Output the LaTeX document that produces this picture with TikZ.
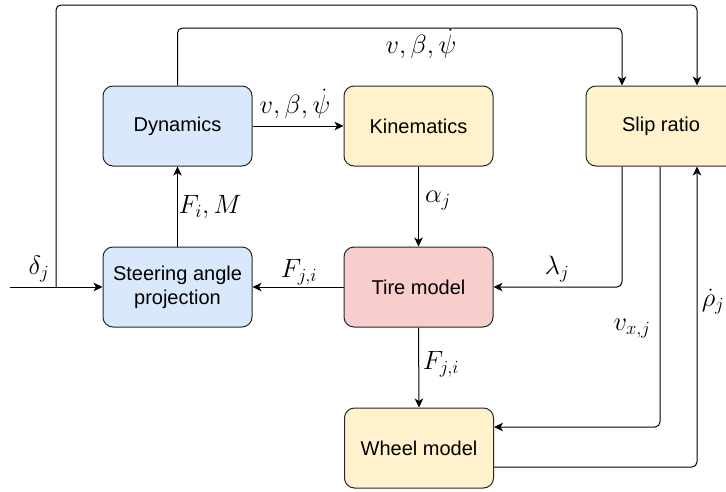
\RequirePackage{fix-cm}
\documentclass[tikz,border=0pt]{standalone}
\usepackage[no-math]{fontspec}
\newfontfamily\boxfont{Liberation Sans}
\usetikzlibrary{arrows.meta}
\definecolor{bluefill}{HTML}{DAE8FC}
\definecolor{yellowfill}{HTML}{FFF2CC}
\definecolor{redfill}{HTML}{F8CECC}
\definecolor{boxline}{HTML}{262626}
\begin{document}
\begin{tikzpicture}[x=1pt,y=-1pt,
  block/.style={draw=boxline, line width=1pt, rounded corners=10pt,
    minimum width=149pt, minimum height=80pt, inner sep=0pt, align=center,
    font=\boxfont\fontsize{20}{24}\selectfont},
  conn/.style={line width=1pt, rounded corners=5pt,
    -{Stealth[length=9pt,width=8.5pt,inset=2.5pt]}},
  lbl/.style={font=\fontsize{26.5}{30}\selectfont, inner sep=0pt}]
\useasboundingbox (0,0) rectangle (726,491);

% blocks
\node[block, fill=bluefill]   (dyn)   at (177.5,126) {Dynamics};
\node[block, fill=yellowfill] (kin)   at (418.5,126) {Kinematics};
\node[block, fill=yellowfill, minimum width=150pt] (slip) at (661,126) {Slip ratio};
\node[block, fill=bluefill]   (steer) at (177.5,287) {Steering angle\\projection};
\node[block, fill=redfill]    (tire)  at (418.5,287) {Tire model};
\node[block, fill=yellowfill] (wheel) at (419,448) {Wheel model};

% helper points
\coordinate (in)       at (10,287);
\coordinate (branch)   at (56,287);
\coordinate (outerTop) at (697,5);
\coordinate (innerTop) at (622,28);

% steering input and its branch to the slip ratio
\draw[conn] (in) -- (steer.west);
\draw[conn] (branch) |- (outerTop) -- ([xshift=36pt]slip.north);

% vehicle state
\draw[conn] (dyn.east) -- (kin.west);
\draw[conn] (dyn.north) |- (innerTop) -- ([xshift=-39pt]slip.north);

% forces
\draw[conn] (steer.north) -- (dyn.south);
\draw[conn] (tire.west) -- (steer.east);
\draw[conn] (kin.south) -- (tire.north);
\draw[conn] (tire.south) -- (wheel.north);

% slip ratio and wheel loop
\draw[conn] ([xshift=-39pt]slip.south) |- (tire.east);
\draw[conn] ([xshift=-1pt]slip.south) |- ([yshift=21pt]wheel.east);
\draw[conn] ([yshift=-19pt]wheel.east) -| ([xshift=36pt]slip.south);

% labels
\node[lbl] (lvel1) at (295,104) {$v, \beta, \dot{\psi}$};
\node[lbl] (lvel2) at (421,44)  {$v, \beta, \dot{\psi}$};
\node[lbl] (ldelta) at (39,269) {$\delta_j$};
\node[lbl] (lfm)   at (210,207) {$F_i, M$};
\node[lbl] (lfji1) at (299,272) {$F_{j,i}$};
\node[lbl] (lalpha) at (438,201) {$\alpha_j$};
\node[lbl] (llambda) at (557,269) {$\lambda_j$};
\node[lbl] (lfji2) at (441,364) {$F_{j,i}$};
\node[lbl] (lvx)   at (632,329) {$v_{x,j}$};
\node[lbl] (lrho)  at (713,302) {$\dot{\rho}_j$};
\end{tikzpicture}
\end{document}
